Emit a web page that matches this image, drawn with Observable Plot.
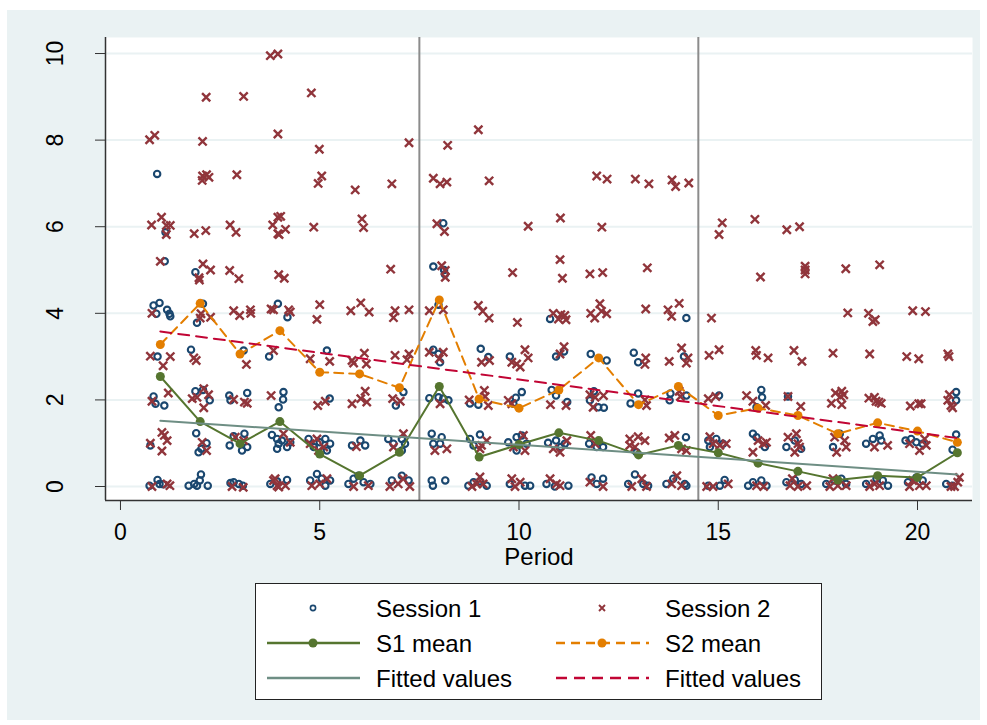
<!DOCTYPE html>
<html><head><meta charset="utf-8">
<script src="https://cdn.jsdelivr.net/npm/d3@7"></script>
<script src="https://cdn.jsdelivr.net/npm/@observablehq/plot@0.6"></script>
<style>
html,body{margin:0;padding:0;background:#fff;}
#wrap{position:relative;width:987px;height:725px;font-family:"Liberation Sans",Arial,sans-serif;}
#bg{position:absolute;left:7px;top:10px;width:973px;height:710px;background:#EAF2F3;}
#chart{position:absolute;left:0;top:0;}
#legend{position:absolute;left:255px;top:583px;}
</style></head><body>
<div id="wrap"><div id="bg"></div><div id="chart"></div><div id="legend"></div></div>
<script>
const periods = [1,2,3,4,5,6,7,8,9,10,11,12,13,14,15,16,17,18,19,20,21];
const s1Mean = [2.54,1.5,0.99,1.5,0.75,0.25,0.79,2.31,0.68,0.97,1.24,1.06,0.73,0.95,0.78,0.54,0.35,0.15,0.25,0.21,0.78];
const s2Mean = [3.28,4.23,3.06,3.6,2.64,2.6,2.28,4.31,2.02,1.81,2.23,2.97,1.89,2.31,1.64,1.81,1.64,1.22,1.47,1.28,1.02];
const fitX = [1, 21];
const s1Fit = [1.52, 0.28];
const s2Fit = [3.58, 1.12];
const cutoffs = [7.5, 14.5];
const xTicks = [0,5,10,15,20];
const yTicks = [0,2,4,6,8,10];
const legendLabels = ["Session 1","Session 2","S1 mean","S2 mean","Fitted values","Fitted values"];

// Session 1 observations [period (jittered), value (jittered)]
const session1 = [
[0.92,7.22],[1.13,5.87],[1.11,5.2],[0.83,4.18],[0.98,4.24],[0.9,3.99],[1.17,4.08],[1.23,3.99],[1.25,3.93],[0.93,3.0],[0.83,2.08],[0.88,1.91],[1.1,1.87],[0.75,0.95],[0.73,0.02],[0.93,0.15],[1.07,0.05],[0.98,0.06],
[1.88,4.95],[2.07,4.22],[1.92,3.78],[1.77,3.16],[1.88,2.2],[2.07,2.23],[2.24,1.99],[1.9,1.23],[1.96,0.79],[2.16,1.0],[2.03,0.87],[1.71,0.02],[1.85,0.06],[1.99,0.14],[2.02,0.28],[2.19,0.02],[1.92,0.02],
[3.09,3.14],[2.73,2.1],[2.76,1.99],[3.18,2.16],[2.74,0.95],[2.84,1.16],[3.11,1.22],[3.05,0.83],[3.18,0.91],[2.76,0.08],[2.84,0.1],[2.97,0.06],[3.07,0.02],
[3.95,4.22],[4.19,3.91],[3.73,3.0],[3.97,1.83],[4.09,2.18],[4.08,2.01],[3.8,1.19],[3.93,1.1],[3.97,0.99],[3.93,0.87],[4.05,1.06],[4.18,0.91],[4.26,1.02],[3.76,0.06],[3.93,0.12],[4.18,0.15],
[5.18,3.14],[5.25,2.03],[4.72,1.1],[4.85,0.91],[5.0,1.02],[5.14,1.1],[5.26,0.99],[5.18,0.83],[4.76,0.14],[4.93,0.29],[5.05,0.18],[5.14,0.02],[5.26,0.14],
[5.81,0.95],[6.02,1.06],[6.14,0.95],[5.72,0.06],[5.85,0.18],[5.97,0.25],[6.1,0.1],[6.27,0.06],
[7.1,2.18],[6.91,1.87],[6.72,1.1],[6.85,0.99],[7.06,1.1],[7.14,0.99],[7.06,0.83],[6.81,0.14],[7.06,0.25],[7.23,0.14],
[8.1,6.08],[7.85,5.08],[8.12,5.0],[8.14,4.9],[7.98,4.2],[7.85,3.16],[7.98,3.06],[8.02,2.87],[7.75,2.04],[7.98,2.06],[8.1,2.03],[8.23,1.99],[7.81,1.22],[7.85,0.99],[8.02,0.99],[8.06,1.14],[7.81,0.14],[7.84,0.02],[8.15,0.14],
[9.04,3.18],[9.23,2.99],[8.77,1.92],[8.98,1.89],[8.77,1.1],[9.02,1.2],[8.86,0.95],[8.73,0.02],[8.86,0.1],[9.02,0.12],[9.19,0.02],
[9.77,3.0],[9.92,2.05],[10.07,2.18],[9.86,1.91],[9.73,1.02],[9.94,1.14],[10.07,1.18],[9.94,0.83],[10.19,0.99],[9.77,0.06],[10.15,0.02],[10.28,0.02],
[10.78,3.87],[10.93,3.0],[11.13,3.12],[10.82,2.23],[10.93,2.1],[11.21,1.95],[10.73,1.01],[10.93,1.06],[11.05,0.91],[11.15,0.99],[10.69,0.06],[10.9,0.0],[11.24,0.02],
[11.8,3.06],[12.2,2.91],[11.78,1.99],[11.88,2.2],[11.99,1.83],[12.13,1.82],[11.76,0.99],[11.95,0.91],[12.11,0.91],[11.82,0.21],[12.11,0.18],[11.95,0.06],
[12.88,3.09],[12.99,2.87],[12.8,1.92],[12.99,2.15],[12.95,0.79],[12.74,0.06],[12.91,0.28],[13.12,0.06],[13.24,0.02],
[14.2,3.89],[14.14,3.0],[13.8,2.15],[13.78,1.99],[14.2,2.1],[14.19,1.14],[13.7,0.06],[13.87,0.18],[14.16,0.06],[14.2,0.02],
[15.02,2.1],[14.75,1.06],[14.95,1.1],[15.12,0.99],[14.79,0.91],[14.75,0.02],[15.16,0.15],[15.04,0.02],
[16.08,2.23],[16.1,2.06],[15.96,1.83],[15.87,1.22],[15.96,1.14],[16.17,0.91],[15.75,0.02],[15.87,0.1],[16.08,0.14],[16.21,0.02],
[16.75,2.08],[16.71,0.91],[16.92,1.06],[17.08,0.87],[16.71,0.1],[16.92,0.15],[17.08,0.06],
[17.88,0.91],[18.05,1.22],[17.71,0.06],[17.92,0.14],[18.09,0.18],[18.21,0.06],
[18.71,0.99],[18.88,1.1],[19.05,1.18],[19.09,1.06],[18.71,0.06],[18.97,0.18],[19.13,0.14],[19.26,0.02],
[19.7,1.06],[19.84,1.1],[19.97,1.02],[20.13,0.99],[19.76,0.1],[19.97,0.21],[20.13,0.14],
[20.97,2.18],[20.97,1.99],[20.97,1.2],[20.88,0.85],[20.72,0.06],[20.88,0.02]
];

// Session 2 observations
const session2 = [
[0.73,8.01],[0.86,8.11],[0.78,6.04],[1.03,6.22],[1.15,6.03],[1.25,6.03],[1.15,5.82],[1.0,5.2],[0.79,4.0],[0.75,3.01],[1.25,3.0],[1.07,2.79],[0.79,1.97],[1.2,2.16],[1.04,1.25],[1.1,1.18],[1.17,1.06],[0.75,1.0],[1.04,0.82],[0.79,0.0],[1.17,0.06],[1.24,0.02],
[2.15,8.99],[2.06,7.97],[2.06,7.17],[2.16,7.2],[2.22,7.14],[2.05,7.07],[1.85,5.84],[2.14,5.91],[2.07,5.14],[2.26,5.0],[1.97,4.82],[1.98,4.77],[2.02,3.99],[2.0,3.89],[2.26,3.91],[1.84,2.97],[1.9,2.91],[1.8,2.03],[1.92,2.06],[2.09,2.26],[2.21,2.12],[2.09,1.82],[2.05,1.02],[2.16,0.83],
[3.09,9.01],[2.92,7.2],[2.75,6.04],[2.9,5.87],[2.74,4.99],[2.97,4.8],[2.84,4.06],[2.99,3.95],[3.26,4.08],[3.27,4.0],[3.16,2.82],[2.84,2.01],[3.11,1.95],[3.18,1.92],[2.88,1.14],[3.09,1.06],[2.8,0.0],[3.08,-0.02],
[3.76,9.95],[3.95,9.99],[3.95,8.14],[3.82,6.04],[3.95,6.22],[3.95,5.84],[4.02,6.24],[3.98,5.82],[4.14,5.94],[3.97,4.89],[4.11,4.81],[3.78,4.1],[3.84,4.08],[4.22,4.08],[4.26,4.03],[3.84,3.14],[3.78,2.1],[4.09,1.22],[4.26,1.02],[3.88,0.18],[3.93,0.02],[3.84,0.14],[3.97,-0.01],[4.14,0.02],
[4.79,9.09],[4.99,7.79],[5.05,7.17],[4.96,7.0],[4.85,5.99],[5.0,4.2],[4.93,3.86],[4.76,2.95],[5.25,2.89],[4.95,1.87],[5.14,1.97],[4.76,0.99],[4.93,1.1],[5.1,0.91],[4.97,0.83],[4.8,0.02],[5.0,0.06],[5.18,0.18],
[5.89,6.85],[6.06,6.18],[6.1,5.98],[5.78,4.06],[6.03,4.24],[6.24,4.03],[5.81,2.91],[5.85,2.85],[6.12,3.08],[6.17,2.83],[5.81,1.91],[6.03,2.03],[6.14,2.2],[6.18,1.95],[5.92,0.92],[5.85,0.0],[6.22,0.02],
[6.81,6.99],[7.24,7.94],[6.78,5.02],[6.89,4.06],[6.85,3.9],[7.24,4.08],[6.89,3.03],[7.19,2.93],[7.24,3.06],[6.83,2.03],[7.02,1.97],[6.85,0.91],[7.1,1.22],[6.76,0.0],[6.97,0.06],[7.26,0.0],[7.09,0.18],
[8.21,7.88],[7.85,7.12],[8.02,6.99],[8.19,7.03],[7.94,6.07],[8.13,5.89],[8.06,5.1],[8.15,4.99],[8.15,4.83],[7.75,4.06],[8.1,4.08],[7.75,3.1],[8.1,3.1],[8.0,2.95],[8.02,1.91],[7.89,0.83],[8.19,0.87],
[8.98,8.24],[9.25,7.06],[8.98,4.18],[9.09,4.05],[9.25,3.89],[9.06,2.87],[9.26,2.91],[8.75,2.0],[9.13,2.22],[9.15,2.08],[9.23,1.87],[9.06,0.95],[9.19,1.06],[9.02,0.87],[8.82,0.0],[9.02,0.22],[9.1,0.06],[8.94,0.06],
[10.23,6.01],[9.84,4.94],[9.96,3.79],[9.82,2.87],[10.15,3.16],[10.23,2.97],[10.03,2.76],[9.94,2.83],[9.73,1.99],[9.82,1.91],[9.86,0.91],[10.11,1.18],[10.15,0.83],[9.82,0.18],[9.9,0.0],[10.03,0.1],
[11.04,6.2],[11.03,5.24],[11.09,4.81],[10.86,4.0],[10.99,3.87],[11.15,3.95],[11.18,3.85],[11.05,3.97],[11.13,3.23],[11.03,3.06],[10.79,1.89],[11.18,1.87],[10.86,0.87],[11.03,0.79],[11.2,1.06],[10.78,0.18],[10.94,0.06],[11.03,0.02],
[11.95,7.17],[12.21,7.1],[12.08,5.99],[11.78,4.91],[12.1,4.94],[11.8,4.0],[11.9,3.89],[12.03,4.22],[12.07,4.05],[12.2,3.99],[11.78,2.12],[11.91,2.06],[12.12,2.1],[11.86,1.83],[11.8,1.18],[11.91,0.99],[11.78,0.1],[12.11,0.0],
[12.92,7.1],[13.26,6.99],[13.22,5.05],[13.18,4.1],[13.18,2.97],[13.16,2.82],[13.16,2.0],[13.2,1.87],[12.78,1.1],[12.99,1.15],[13.16,1.06],[12.78,0.95],[12.91,0.91],[12.83,0.0],[13.08,0.18],[13.2,0.0],
[13.84,7.08],[13.93,6.93],[14.26,7.01],[13.74,4.08],[13.83,3.93],[14.02,4.23],[13.77,2.89],[14.08,3.2],[14.24,2.97],[14.2,2.85],[14.05,2.08],[14.02,2.2],[13.77,1.12],[13.91,1.18],[14.08,0.87],[14.2,0.83],[13.83,0.06],[13.96,0.25],[14.08,0.02],
[15.1,6.09],[15.02,5.82],[14.83,3.89],[14.77,3.03],[15.02,3.16],[14.75,2.03],[14.94,2.08],[14.87,0.99],[15.04,0.95],[15.2,0.99],[14.79,1.15],[14.71,0.0],[14.87,0.0],[15.25,0.06],
[15.92,6.17],[16.06,4.84],[15.94,3.14],[15.96,3.03],[16.25,2.97],[15.71,2.1],[15.87,1.97],[16.19,1.87],[16.0,1.06],[16.13,0.99],[16.21,1.02],[15.87,0.79],[15.96,0.02],[16.14,0.0],
[16.72,5.93],[17.04,6.0],[17.18,5.09],[17.18,5.0],[17.18,4.91],[16.9,3.14],[17.1,2.89],[16.75,2.08],[17.07,1.85],[16.75,1.14],[16.96,1.22],[17.0,0.99],[16.92,0.79],[17.04,0.91],[16.8,0.02],[17.0,0.0],[17.22,0.02],[16.86,0.18],
[18.2,5.03],[18.25,4.01],[17.88,3.08],[17.94,2.16],[18.1,2.2],[18.15,2.12],[18.07,2.08],[17.84,1.92],[18.1,1.89],[17.92,1.14],[18.17,1.06],[18.21,0.91],[17.97,0.79],[17.8,0.0],[18.0,0.02],[18.21,0.02],[17.88,0.18],
[19.05,5.12],[18.77,4.0],[18.88,3.81],[18.94,3.85],[18.8,3.06],[18.78,2.04],[18.92,2.06],[19.03,1.95],[19.09,1.92],[18.96,1.97],[18.92,0.91],[19.25,0.95],[18.8,0.0],[19.05,0.02],[18.92,0.06],
[19.88,4.06],[20.2,4.04],[19.73,3.0],[20.03,2.95],[19.82,1.86],[20.03,1.91],[20.09,1.91],[19.8,0.99],[20.05,0.83],[20.22,0.95],[20.18,1.1],[19.8,0.0],[20.05,0.02],[20.22,0.02],[19.88,0.14],
[20.76,3.06],[20.79,3.0],[20.8,2.12],[20.76,1.99],[20.84,1.87],[20.88,1.82],[20.84,0.0],[21.01,0.1],[21.05,0.21],[20.93,0.0]
];

const colors = {navy:"#1A476F", maroon:"#90353B", green:"#55752F", orange:"#E37E00", teal:"#6E8E84", cranberry:"#C10534"};
const FONT = "'Liberation Sans', Arial, sans-serif";
const FS = 23;
const FSL = 24;

const s1Rows = periods.map((p,i)=>({period:p, v:s1Mean[i]}));
const s2Rows = periods.map((p,i)=>({period:p, v:s2Mean[i]}));
const f1Rows = fitX.map((p,i)=>({period:p, v:s1Fit[i]}));
const f2Rows = fitX.map((p,i)=>({period:p, v:s2Fit[i]}));

const xDomain = [-0.376, 21.38];
const yDomain = [-0.323, 10.37];

const chart = Plot.plot({
  width: 987, height: 725,
  marginLeft: 105, marginRight: 15, marginTop: 37, marginBottom: 225,
  x: {domain: xDomain}, y: {domain: yDomain},
  style: {background: "transparent", fontFamily: FONT, fontSize: FS + "px", color: "#000"},
  marks: [
    Plot.frame({fill: "#fff", stroke: "none"}),
    Plot.ruleY(yTicks, {stroke: "#EAF2F3", strokeWidth: 2}),
    Plot.ruleX(cutoffs, {stroke: "#8C8C8C", strokeWidth: 2}),
    Plot.dot(session1, {x: d => d[0], y: d => d[1], r: 3.2, stroke: colors.navy, strokeWidth: 2.1, fill: "none"}),
    Plot.dot(session2, {x: d => d[0], y: d => d[1], symbol: "times", r: 3.8, stroke: colors.maroon, strokeWidth: 2.4}),
    Plot.line(s1Rows, {x: "period", y: "v", stroke: colors.green, strokeWidth: 2}),
    Plot.dot(s1Rows, {x: "period", y: "v", r: 4.5, fill: colors.green}),
    Plot.line(s2Rows, {x: "period", y: "v", stroke: colors.orange, strokeWidth: 2, strokeDasharray: "9,6"}),
    Plot.dot(s2Rows, {x: "period", y: "v", r: 4.5, fill: colors.orange}),
    Plot.line(f1Rows, {x: "period", y: "v", stroke: colors.teal, strokeWidth: 2}),
    Plot.line(f2Rows, {x: "period", y: "v", stroke: colors.cranberry, strokeWidth: 2, strokeDasharray: "11,7"}),
    Plot.ruleY([yDomain[0]], {stroke: "#333", strokeWidth: 1.5}),
    Plot.ruleX([xDomain[0]], {stroke: "#333", strokeWidth: 1.5}),
    Plot.axisX({ticks: xTicks, tickSize: 10, tickFormat: () => "", label: null, stroke: "#333"}),
    Plot.axisY({ticks: yTicks, tickSize: 10, tickFormat: () => "", label: null, stroke: "#333"}),
    Plot.text(xTicks, {x: d => d, text: d => String(d), frameAnchor: "bottom", dy: 32, lineAnchor: "middle", fontSize: FS, fill: "#000"}),
    Plot.text(yTicks, {y: d => d, text: d => String(d), frameAnchor: "left", dx: -50, rotate: -90, textAnchor: "middle", lineAnchor: "middle", fontSize: FS, fill: "#000"}),
    Plot.text(["Period"], {text: d => d, frameAnchor: "bottom", dy: 57, lineAnchor: "middle", fontSize: FSL, fill: "#000"})
  ]
});
document.getElementById("chart").appendChild(chart);

// Legend
const lg = d3.select("#legend").append("svg").attr("width", 567).attr("height", 117)
  .style("font-family", FONT).style("font-size", FSL + "px");
lg.append("rect").attr("x", 0.5).attr("y", 0.5).attr("width", 566).attr("height", 116).attr("fill", "#fff").attr("stroke", "#222").attr("stroke-width", 1);
const items = [
  {col:0,row:0,type:"circle",color:colors.navy},
  {col:1,row:0,type:"times",color:colors.maroon},
  {col:0,row:1,type:"lineDot",color:colors.green,dash:null},
  {col:1,row:1,type:"lineDot",color:colors.orange,dash:"9,6"},
  {col:0,row:2,type:"line",color:colors.teal,dash:null},
  {col:1,row:2,type:"line",color:colors.cranberry,dash:"11,7"}
];
const colX = [12, 301], rowY = [25, 60, 95];
items.forEach((it,i)=>{
  const x0 = colX[it.col], y = rowY[it.row], xm = x0 + 46;
  if (it.type === "circle") {
    lg.append("circle").attr("cx", xm).attr("cy", y).attr("r", 2.6).attr("fill","none").attr("stroke", it.color).attr("stroke-width", 1.6);
  } else if (it.type === "times") {
    lg.append("path").attr("d", `M${xm-3},${y-3}L${xm+3},${y+3}M${xm-3},${y+3}L${xm+3},${y-3}`).attr("stroke", it.color).attr("stroke-width", 1.9);
  } else {
    lg.append("line").attr("x1", x0).attr("x2", x0+93).attr("y1", y).attr("y2", y).attr("stroke", it.color).attr("stroke-width", 2.5).attr("stroke-dasharray", it.dash);
    if (it.type === "lineDot") lg.append("circle").attr("cx", xm).attr("cy", y).attr("r", 4.5).attr("fill", it.color);
  }
  lg.append("text").attr("x", x0 + 109).attr("y", y).attr("dy", "0.36em").attr("fill", "#000").text(legendLabels[i]);
});
</script>
</body></html>
